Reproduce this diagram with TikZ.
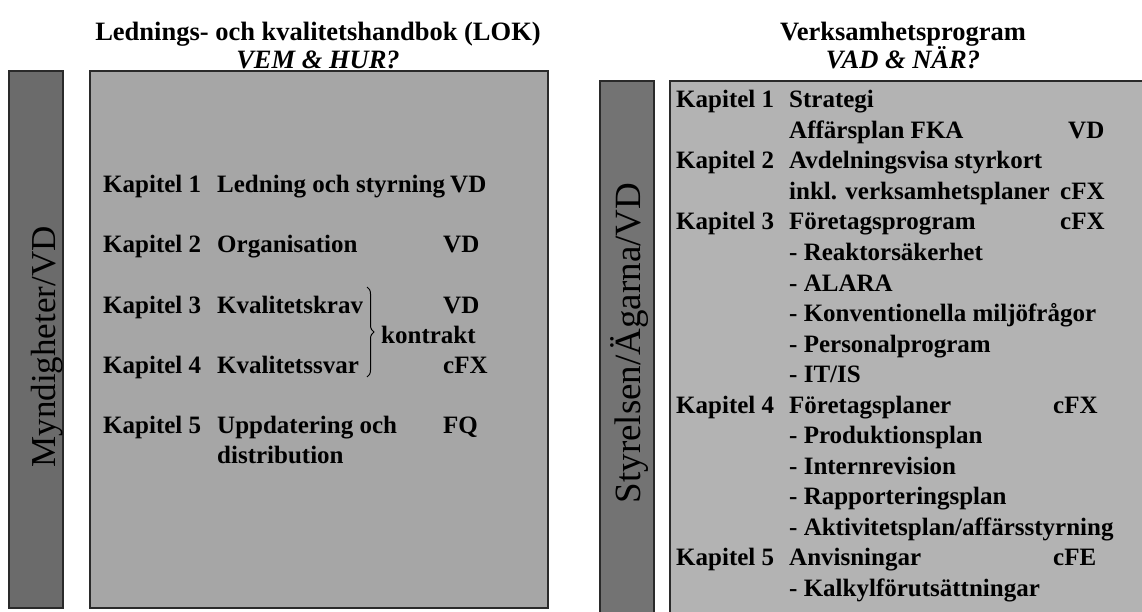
\documentclass[tikz,border=0pt]{standalone}
\usepackage{fontspec}
\setmainfont{Liberation Serif}
\usetikzlibrary{decorations.pathreplacing}
\definecolor{barL}{HTML}{6B6B6B}
\definecolor{boxL}{HTML}{A6A6A6}
\definecolor{barR}{HTML}{737373}
\definecolor{boxR}{HTML}{B3B3B3}
\definecolor{edge}{HTML}{2A2A2A}
\begin{document}
\begin{tikzpicture}[x=1pt,y=-1pt,
  panel/.style={draw=edge,line width=1.6pt},
  title/.style={font=\fontsize{26.5}{30}\selectfont\bfseries,inner sep=0pt,anchor=base},
  subtitle/.style={font=\fontsize{26.5}{30}\selectfont\bfseries\itshape,inner sep=0pt,anchor=base},
  txt/.style={font=\fontsize{25}{28}\selectfont\bfseries,inner sep=0pt,anchor=base west},
  side/.style={inner sep=0pt,anchor=base,rotate=90}]
\useasboundingbox (0,0) rectangle (1142,612);
\begin{scope}
\clip (0,0) rectangle (1142,612);
% left panels
\draw[panel,fill=barL] (9,71) rectangle (63,608);
\draw[panel,fill=boxL] (90,71) rectangle (548,608);
% right panels
\draw[panel,fill=barR] (600,81) rectangle (654,620);
\draw[panel,fill=boxR] (670,81) rectangle (1150,620);
\end{scope}
% titles
\node[title] (t1) at (318,41) {Lednings- och kvalitetshandbok (LOK)};
\node[subtitle] (s1) at (318,69) {VEM \& HUR?};
\node[title] (t2) at (903,41) {Verksamhetsprogram};
\node[subtitle] (s2) at (903,69) {VAD \& NÄR?};
% side labels
\node[side,font=\fontsize{35}{38}\selectfont] (sL) at (55,347) {Myndigheter/VD};
\node[side,font=\fontsize{37}{40}\selectfont] (sR) at (640,343) {Styrelsen/Ägarna/VD};
% left content
\node[txt] (l1a) at (103,193) {Kapitel 1};
\node[txt] (l1b) at (217,193) {Ledning och styrning};
\node[txt] (l1c) at (450,193) {VD};
\node[txt] (l2a) at (103,253) {Kapitel 2};
\node[txt] (l2b) at (217,253) {Organisation};
\node[txt] (l2c) at (443,253) {VD};
\node[txt] (l3a) at (103,313) {Kapitel 3};
\node[txt] (l3b) at (217,313) {Kvalitetskrav};
\node[txt] (l3c) at (443,313) {VD};
\node[txt] (lk) at (381,343) {kontrakt};
\node[txt] (l4a) at (103,373) {Kapitel 4};
\node[txt] (l4b) at (217,373) {Kvalitetssvar};
\node[txt] (l4c) at (443,373) {cFX};
\node[txt] (l5a) at (103,433) {Kapitel 5};
\node[txt] (l5b) at (217,433) {Uppdatering och};
\node[txt] (l5c) at (443,433) {FQ};
\node[txt] (l5d) at (217,463) {distribution};
\coordinate (bt) at (367,287);
\coordinate (bb) at (367,377);
\draw[line width=1pt,decorate,decoration={brace,amplitude=7pt}] (bt) -- (bb);
% right content
\node[txt] (r0a) at (676,108) {Kapitel 1};
\node[txt] (r0b) at (789,108) {Strategi};
\node[txt] (r1b) at (789,138.5) {Affärsplan FKA};
\node[txt] (r1c) at (1068,138.5) {VD};
\node[txt] (r2a) at (676,169) {Kapitel 2};
\node[txt] (r2b) at (789,169) {Avdelningsvisa styrkort};
\node[txt] (r3b) at (789,199.5) {inkl. verksamhetsplaner};
\node[txt] (r3c) at (1060,199.5) {cFX};
\node[txt] (r4a) at (676,230) {Kapitel 3};
\node[txt] (r4b) at (789,230) {Företagsprogram};
\node[txt] (r4c) at (1060,230) {cFX};
\node[txt] (r5b) at (789,260.5) {- Reaktorsäkerhet};
\node[txt] (r6b) at (789,291) {- ALARA};
\node[txt] (r7b) at (789,321.5) {- Konventionella miljöfrågor};
\node[txt] (r8b) at (789,352) {- Personalprogram};
\node[txt] (r9b) at (789,382.5) {- IT/IS};
\node[txt] (r10a) at (676,413) {Kapitel 4};
\node[txt] (r10b) at (789,413) {Företagsplaner};
\node[txt] (r10c) at (1053,413) {cFX};
\node[txt] (r11b) at (789,443.5) {- Produktionsplan};
\node[txt] (r12b) at (789,474) {- Internrevision};
\node[txt] (r13b) at (789,504.5) {- Rapporteringsplan};
\node[txt] (r14b) at (789,535) {- Aktivitetsplan/affärsstyrning};
\node[txt] (r15a) at (676,565.5) {Kapitel 5};
\node[txt] (r15b) at (789,565.5) {Anvisningar};
\node[txt] (r15c) at (1053,565.5) {cFE};
\node[txt] (r16b) at (789,596) {- Kalkylförutsättningar};
\end{tikzpicture}
\end{document}
